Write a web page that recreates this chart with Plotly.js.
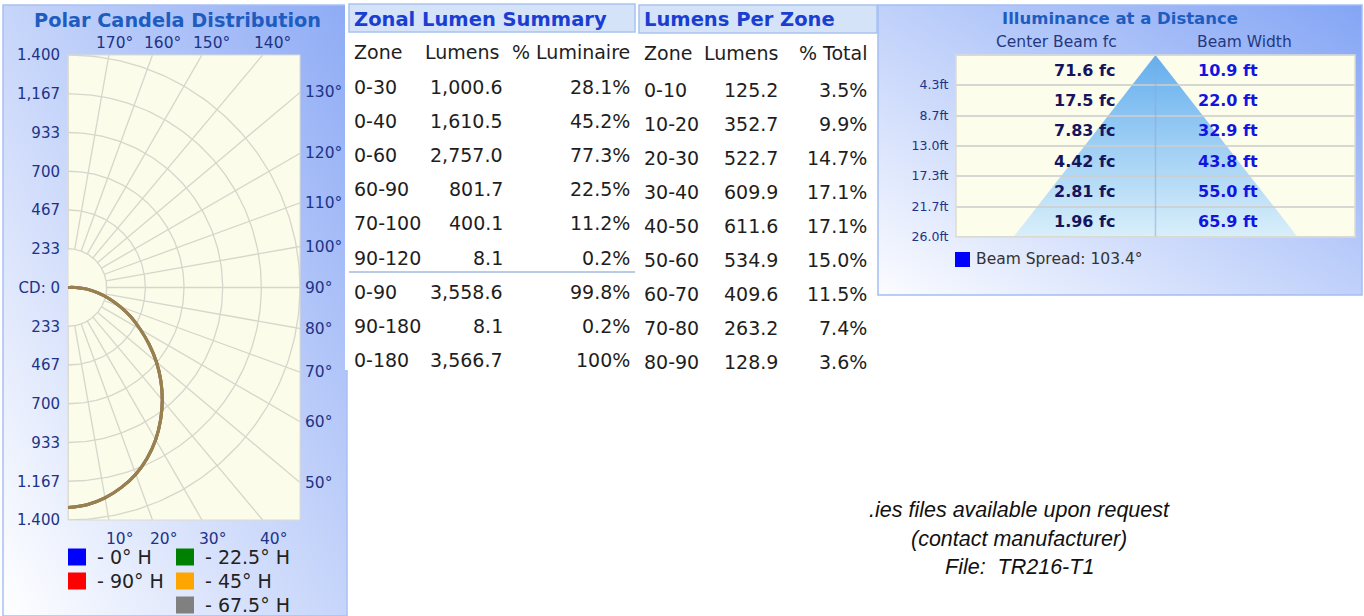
<!DOCTYPE html>
<html><head><meta charset="utf-8">
<script src="https://cdn.plot.ly/plotly-3.0.1.min.js"></script>
<style>html,body{margin:0;padding:0;background:#fff;overflow:hidden}#chart{width:1364px;height:616px}</style>
</head><body><div id="chart"></div>
<script>
// ---------------- DATA ----------------
// Polar candela distribution (vertical angle from nadir, candela) – all horizontal planes identical
const candelaAngles = [0,5,10,15,20,25,30,35,40,45,50,55,60,65,70,75,80,85,90,95,100,110,120,130,140,150,160,170,180];
const candela      = [1325,1313,1286,1246,1196,1132,1058,974,885,792,696,598,503,418,333,255,180,115,45,8,3,0,0,0,0,0,0,0,0];
const planeNames  = ['0° H','22.5° H','45° H','67.5° H','90° H'];
const planeColors = ['#0000ff','#008000','#ffa500','#808080','#ff0000'];
const radialMax = 1400;
const radialLabelsUp   = ['233','467','700','933','1,167','1.400'];
const radialLabelsDown = ['233','467','700','933','1.167','1.400'];
const angleTicks = [10,20,30,40,50,60,70,80,90,100,110,120,130,140,150,160,170];

// Zonal Lumen Summary
const zonalZones  = ['0-30','0-40','0-60','60-90','70-100','90-120','0-90','90-180','0-180'];
const zonalLumens = [1000.6,1610.5,2757.0,801.7,400.1,8.1,3558.6,8.1,3566.7];
const zonalPct    = [28.1,45.2,77.3,22.5,11.2,0.2,99.8,0.2,100];

// Lumens Per Zone
const zoneBands  = ['0-10','10-20','20-30','30-40','40-50','50-60','60-70','70-80','80-90'];
const zoneLumens = [125.2,352.7,522.7,609.9,611.6,534.9,409.6,263.2,128.9];
const zonePct    = [3.5,9.9,14.7,17.1,17.1,15.0,11.5,7.4,3.6];

// Illuminance at a Distance
const distances  = [4.3,8.7,13.0,17.3,21.7,26.0];
const centerFc   = [71.6,17.5,7.83,4.42,2.81,1.96];
const beamWidth  = [10.9,22.0,32.9,43.8,55.0,65.9];
const beamSpread = 103.4;

const footnote = ['.ies files available upon request','(contact manufacturer)','File:  TR216-T1'];

// ---------------- LAYOUT HELPERS ----------------
const W=1364,H=616;
const px=x=>x/W, py=y=>1-y/H;
const FF="'DejaVu Sans', Verdana, sans-serif";
const NAVY='#1d3386';
const rad=d=>d*Math.PI/180;

function gradURI(stops,x1,y1,x2,y2){
  const s=`<svg xmlns="http://www.w3.org/2000/svg" width="100" height="100" viewBox="0 0 100 100" preserveAspectRatio="none"><defs><linearGradient id="g" x1="${x1}" y1="${y1}" x2="${x2}" y2="${y2}">`+
    stops.map(([o,c])=>`<stop offset="${o}" stop-color="${c}"/>`).join('')+
    `</linearGradient></defs><rect width="100" height="100" fill="url(#g)"/></svg>`;
  return 'data:image/svg+xml;base64,'+btoa(s);
}
function img(src,x0,y0,x1,y1){
  return {source:src,xref:'paper',yref:'paper',x:px(x0),y:py(y0),sizex:(x1-x0)/W,sizey:(y1-y0)/H,
          sizing:'stretch',xanchor:'left',yanchor:'top',layer:'below'};
}
function ann(text,x,y,o={}){
  return Object.assign({text,x:px(x),y:py(y),xref:'paper',yref:'paper',showarrow:false,
    xanchor:'left',yanchor:'middle',font:{family:FF,size:19,color:'#1e1e1e'}},o);
}
const fmtLm=v=>v.toLocaleString('en-US',{minimumFractionDigits:1,maximumFractionDigits:1});
const fmtPct=v=>v===100?'100%':v.toFixed(1)+'%';

const traces=[], shapes=[], annotations=[], images=[];

// ---------------- BACKGROUND PANELS ----------------
images.push(img(gradURI([[0,'#8eabf5'],[1,'#ffffff']],1,0,0,1),3,5,347,616));
images.push(img(gradURI([[0,'#84a5f5'],[1,'#fbfcff']],1,0,0,1),878,5,1362,295));
shapes.push({type:'rect',xref:'paper',yref:'paper',x0:px(3),x1:px(347),y0:py(616),y1:py(5),line:{color:'#a9c0f2',width:1.5},layer:'below'});
shapes.push({type:'rect',xref:'paper',yref:'paper',x0:px(345),x1:px(877),y0:py(370),y1:py(0),fillcolor:'#ffffff',line:{width:0},layer:'below'});
shapes.push({type:'rect',xref:'paper',yref:'paper',x0:px(878),x1:px(1362),y0:py(295),y1:py(5),line:{color:'#a4bdf2',width:1.5},layer:'below'});
// header boxes
shapes.push({type:'rect',xref:'paper',yref:'paper',x0:px(349),x1:px(635),y0:py(32),y1:py(4),fillcolor:'#d5e3f8',line:{color:'#a8c2ee',width:1.5},layer:'below'});
shapes.push({type:'rect',xref:'paper',yref:'paper',x0:px(639),x1:px(877),y0:py(33),y1:py(5),fillcolor:'#d5e3f8',line:{color:'#a8c2ee',width:1.5},layer:'below'});
// separator line in zonal summary
shapes.push({type:'line',xref:'paper',yref:'paper',x0:px(349),x1:px(635),y0:py(272),y1:py(272),line:{color:'#b9cbe6',width:2},layer:'below'});

// ---------------- POLAR CANDELA (cartesian projection) ----------------
shapes.push({type:'rect',xref:'x domain',yref:'y domain',x0:0,x1:1,y0:0,y1:1,fillcolor:'#fcfcea',line:{color:'#dcdcd2',width:1},layer:'below'});
const step=radialMax/6;
{
  const gx=[],gy=[];
  for(let k=1;k<=6;k++){
    const r=step*k;
    for(let a=0;a<=180;a+=1){gx.push(r*Math.sin(rad(a)));gy.push(-r*Math.cos(rad(a)));}
    gx.push(null);gy.push(null);
  }
  for(let a=0;a<=180;a+=10){
    const s=Math.sin(rad(a)),c=Math.cos(rad(a));
    let t=Infinity;
    if(s>1e-9)t=Math.min(t,radialMax/s);
    if(Math.abs(c)>1e-9)t=Math.min(t,radialMax/Math.abs(c));
    gx.push(step*s,t*s,null);gy.push(-step*c,-t*c,null);
  }
  traces.push({type:'scatter',mode:'lines',x:gx,y:gy,xaxis:'x',yaxis:'y',line:{color:'#d6d6cc',width:1.3},hoverinfo:'skip',showlegend:false});
}
const drawOrder=[0,4,1,2,3];
drawOrder.forEach(i=>{
  traces.push({type:'scatter',mode:'lines',name:planeNames[i],
    x:candela.map((v,j)=>v*Math.sin(rad(candelaAngles[j]))),
    y:candela.map((v,j)=>-v*Math.cos(rad(candelaAngles[j]))),
    xaxis:'x',yaxis:'y',line:{color:planeColors[i],width:3,shape:'spline'},opacity:0.5,showlegend:false,hoverinfo:'skip'});
});
angleTicks.forEach(a=>{
  const s=Math.sin(rad(a)),c=Math.cos(rad(a));
  const lab=a+'°';
  const f={family:FF,size:15.5,color:NAVY};
  if(a<45){
    annotations.push({text:lab,x:radialMax*s/c,y:-radialMax,xref:'x',yref:'y',showarrow:false,xanchor:'center',yanchor:'top',xshift:11,yshift:-8,font:f});
  }else if(a>135){
    annotations.push({text:lab,x:radialMax*s/Math.abs(c),y:radialMax,xref:'x',yref:'y',showarrow:false,xanchor:'center',yanchor:'bottom',xshift:a===170?6:10,yshift:1,font:f});
  }else{
    annotations.push({text:lab,x:radialMax,y:-radialMax*c/s,xref:'x',yref:'y',showarrow:false,xanchor:'left',yanchor:'middle',xshift:3,font:f});
  }
});
const rTickVals=[],rTickText=[];
for(let k=6;k>=1;k--){rTickVals.push(-step*k);rTickText.push(radialLabelsDown[k-1]);}
rTickVals.push(0);rTickText.push('CD: 0');
for(let k=1;k<=6;k++){rTickVals.push(step*k);rTickText.push(radialLabelsUp[k-1]);}

annotations.push(ann('Polar Candela Distribution',177,21,{xanchor:'center',font:{family:FF,size:19.3,color:'#1e5cc0',weight:'bold'}}));

const legendSlot={0:[0,0],1:[1,0],2:[1,1],3:[1,2],4:[0,1]};
planeNames.forEach((n,i)=>{
  const [col,row]=legendSlot[i];
  const x0=68+col*108, yc=557+row*24;
  shapes.push({type:'rect',xref:'paper',yref:'paper',x0:px(x0),x1:px(x0+18),y0:py(yc+8.5),y1:py(yc-8.5),fillcolor:planeColors[i],line:{width:0}});
  annotations.push(ann('- '+n,x0+27,yc,{font:{family:FF,size:19,color:'#222'}}));
});

// ---------------- TABLES ----------------
annotations.push(ann('Zonal Lumen Summary',352,19,{font:{family:FF,size:19.5,color:'#1b3ed2',weight:'bold'}}));
annotations.push(ann('Lumens Per Zone',642,20,{font:{family:FF,size:19.5,color:'#1b3ed2',weight:'bold'}}));
annotations.push(ann('Zone',352,52));
annotations.push(ann('Lumens',501,52,{xanchor:'right'}));
annotations.push(ann('% Luminaire',632,52,{xanchor:'right'}));
zonalZones.forEach((z,i)=>{
  const y=87+i*34.1;
  annotations.push(ann(z,352,y));
  annotations.push(ann(fmtLm(zonalLumens[i]),505,y,{xanchor:'right'}));
  annotations.push(ann(fmtPct(zonalPct[i]),632,y,{xanchor:'right'}));
});
annotations.push(ann('Zone',642,53));
annotations.push(ann('Lumens',780,53,{xanchor:'right'}));
annotations.push(ann('% Total',869,53,{xanchor:'right'}));
zoneBands.forEach((z,i)=>{
  const y=90.5+i*33.9;
  annotations.push(ann(z,642,y));
  annotations.push(ann(fmtLm(zoneLumens[i]),780,y,{xanchor:'right'}));
  annotations.push(ann(fmtPct(zonePct[i]),869,y,{xanchor:'right'}));
});

// ---------------- ILLUMINANCE AT A DISTANCE ----------------
shapes.push({type:'rect',xref:'x2 domain',yref:'y2 domain',x0:0,x1:1,y0:0,y1:1,fillcolor:'#fdfdeb',line:{width:0},layer:'below'});
traces.push({type:'scatter',mode:'lines',xaxis:'x2',yaxis:'y2',
  x:[0,...beamWidth.map(b=>b/2),...beamWidth.slice().reverse().map(b=>-b/2),0],
  y:[0,...distances,...distances.slice().reverse(),0],
  fill:'toself',fillgradient:{type:'vertical',colorscale:[[0,'#d9effa'],[1,'#64aeee']]},
  line:{width:0,color:'rgba(0,0,0,0)'},hoverinfo:'skip',showlegend:false});
[0,...distances].forEach(d=>{
  shapes.push({type:'line',xref:'x2 domain',yref:'y2',x0:0,x1:1,y0:d,y1:d,line:{color:'rgba(205,205,205,0.8)',width:2},layer:'above'});
});
shapes.push({type:'line',xref:'x2',yref:'y2 domain',x0:0,x1:0,y0:0,y1:1,line:{color:'rgba(140,170,210,0.55)',width:1.5},layer:'above'});
shapes.push({type:'rect',xref:'x2 domain',yref:'y2 domain',x0:0,x1:1,y0:0,y1:1,line:{color:'#dcdcd4',width:1.5},layer:'above'});
annotations.push(ann('Illuminance at a Distance',1120,18,{xanchor:'center',font:{family:FF,size:16.5,color:'#1e5cc0',weight:'bold'}}));
annotations.push(ann('Center Beam fc',1056,42,{xanchor:'center',font:{family:FF,size:15.5,color:'#24387e'}}));
annotations.push(ann('Beam Width',1244,42,{xanchor:'center',font:{family:FF,size:15.5,color:'#24387e'}}));
distances.forEach((d,i)=>{
  const yc=55+(i+0.5)*(182/6);
  annotations.push(ann(centerFc[i].toPrecision(3)+' fc',1118,yc,{xanchor:'right',font:{family:FF,size:16,color:'#15155e',weight:'bold'}}));
  annotations.push(ann(beamWidth[i].toFixed(1)+' ft',1196,yc,{font:{family:FF,size:16,color:'#1414e0',weight:'bold'}}));
});
shapes.push({type:'rect',xref:'paper',yref:'paper',x0:px(955),x1:px(970),y0:py(267),y1:py(252),fillcolor:'#0000ff',line:{width:0}});
annotations.push(ann('Beam Spread: '+beamSpread.toFixed(1)+'°',974,259,{font:{family:FF,size:15.5,color:'#333'}}));

footnote.forEach((t,i)=>{
  annotations.push(ann(t,1019,510+i*28.5,{xanchor:'center',font:{family:"'Liberation Sans', Arial, sans-serif",size:21.5,color:'#111',style:'italic'}}));
});

// ---------------- FIGURE ----------------
const layout={
  width:W,height:H,margin:{l:0,r:0,t:0,b:0},paper_bgcolor:'rgba(0,0,0,0)',plot_bgcolor:'rgba(0,0,0,0)',
  showlegend:false,
  xaxis:{domain:[px(68),px(300)],range:[0,radialMax],visible:false,fixedrange:true},
  yaxis:{domain:[py(520),py(55)],range:[-radialMax,radialMax],tickvals:rTickVals,ticktext:rTickText,
         showgrid:false,zeroline:false,showline:false,ticks:'outside',ticklen:4,tickcolor:'rgba(0,0,0,0)',
         tickfont:{family:FF,size:15,color:NAVY},fixedrange:true},
  xaxis2:{domain:[px(956),px(1355)],range:[-46.25,46.25],visible:false,anchor:'y2',fixedrange:true},
  yaxis2:{domain:[py(237),py(55)],range:[26,0],anchor:'x2',tickvals:distances,ticktext:distances.map(d=>d.toFixed(1)+'ft'),
          showgrid:false,zeroline:false,showline:false,ticks:'outside',ticklen:4,tickcolor:'rgba(0,0,0,0)',
          tickfont:{family:FF,size:12.5,color:NAVY},fixedrange:true},
  shapes,annotations,images
};
Plotly.newPlot('chart',traces,layout,{displayModeBar:false,staticPlot:true});
</script></body></html>
